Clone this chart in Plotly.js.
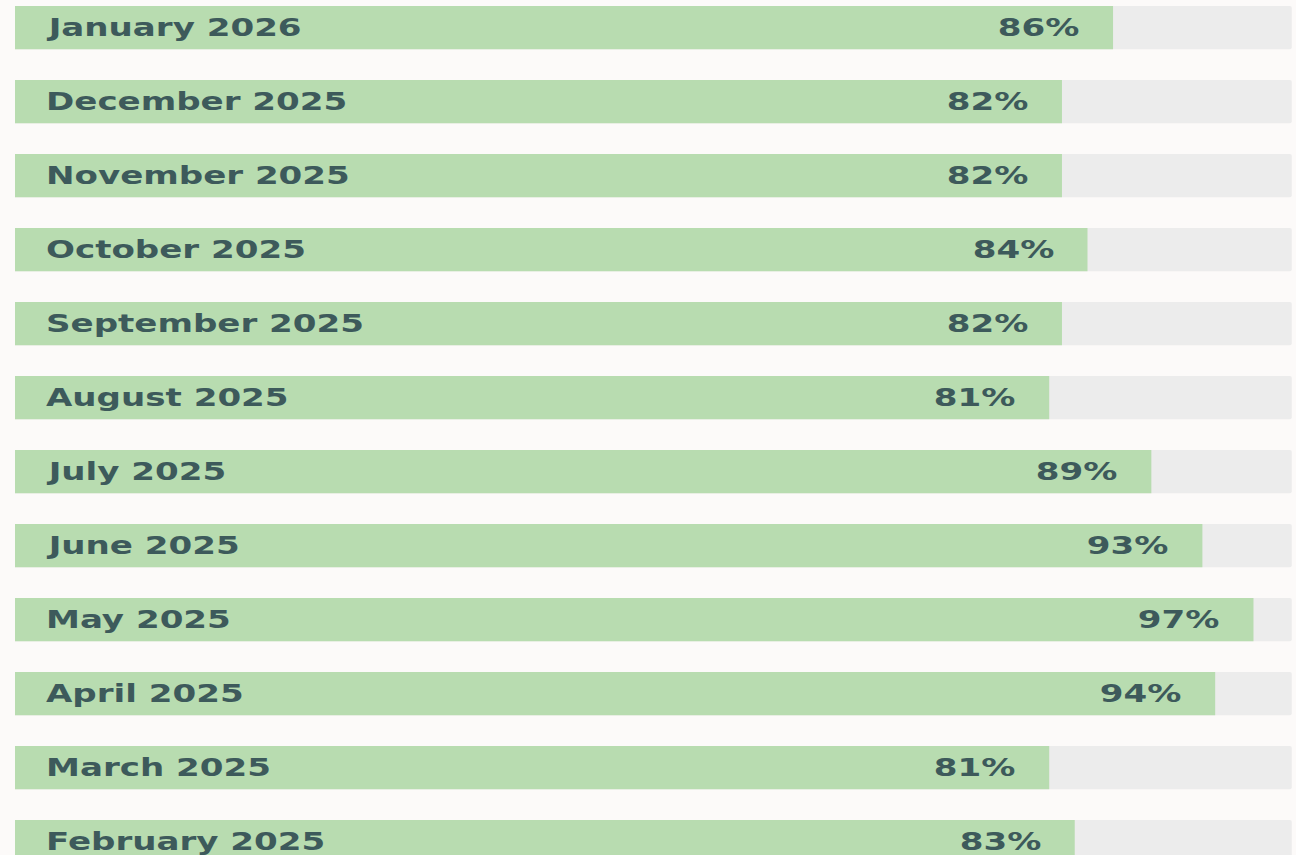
<!DOCTYPE html>
<html>
<head>
<meta charset="utf-8">
<script src="https://cdn.plot.ly/plotly-3.0.1.min.js"></script>
<style>
  html, body { margin: 0; padding: 0; background: #FCFAF9; }
  #chart { width: 1296px; height: 855px; }
</style>
</head>
<body>
<div id="chart"></div>
<script>
const months = ["January 2026", "December 2025", "November 2025", "October 2025", "September 2025", "August 2025", "July 2025", "June 2025", "May 2025", "April 2025", "March 2025", "February 2025"];
const values = [86, 82, 82, 84, 82, 81, 89, 93, 97, 94, 81, 83];
const trackMax = months.map(() => 100);

const textColor = "#3D5A5B";
const labelFont = { family: "DejaVu Sans", size: 24, color: textColor, weight: 700 };

const track = {
  type: "bar", orientation: "h", y: months, x: trackMax,
  marker: { color: "#ECECEC" }, width: 0.585, hoverinfo: "skip"
};
const bars = {
  type: "bar", orientation: "h", y: months, x: values,
  marker: { color: "#B8DCB0" }, width: 0.585, hoverinfo: "skip"
};

const annotations = [];
months.forEach((m) => {
  annotations.push({ x: 0, y: m, xref: "x", yref: "y", text: m, showarrow: false,
    xanchor: "left", yanchor: "middle", align: "left", xshift: 29, font: labelFont });
});
months.forEach((m, i) => {
  annotations.push({ x: values[i], y: m, xref: "x", yref: "y", text: values[i] + "%", showarrow: false,
    xanchor: "right", yanchor: "middle", align: "right", xshift: -32, font: labelFont });
});

const layout = {
  width: 1296, height: 855,
  margin: { l: 0, r: 0, t: 0, b: 0 },
  paper_bgcolor: "#FCFAF9", plot_bgcolor: "#FCFAF9",
  barmode: "overlay", barcornerradius: 2,
  showlegend: false,
  xaxis: { range: [-1.175, 100.33], visible: false, fixedrange: true },
  yaxis: { type: "category", range: [11.18, -0.372], autorange: false, visible: false, fixedrange: true },
  annotations: annotations
};

Plotly.newPlot("chart", [track, bars], layout, { displayModeBar: false, staticPlot: true }).then((gd) => {
  const texts = gd.querySelectorAll("text.annotation-text");
  texts.forEach((t, i) => {
    t.style.transformBox = "fill-box";
    t.style.transformOrigin = i < months.length ? "left center" : "right center";
    t.style.transform = "scaleX(1.42)";
  });
});
</script>
</body>
</html>
